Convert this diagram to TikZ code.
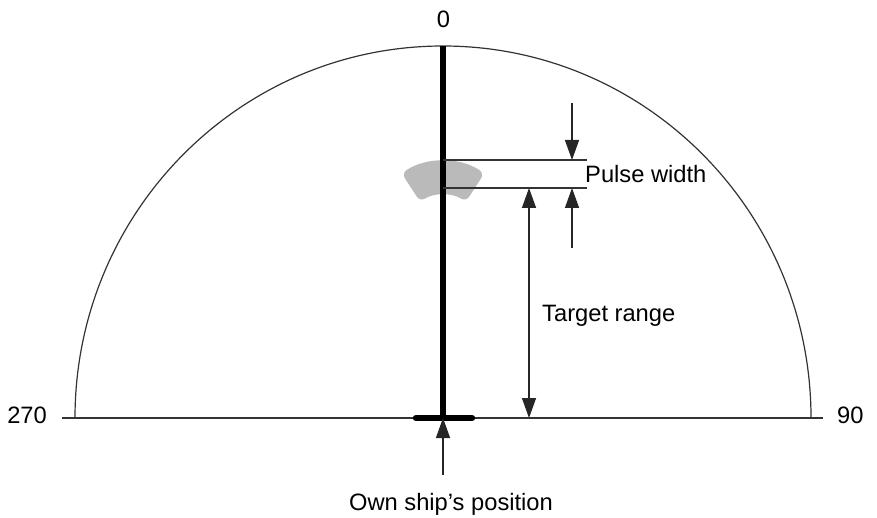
\documentclass[tikz,border=0pt]{standalone}
\usepackage{fontspec}
\setmainfont{Liberation Sans}
\usetikzlibrary{arrows.meta,calc}
\begin{document}
\begin{tikzpicture}[x=1pt,y=1pt,
  thinline/.style={draw=black!80,line width=1.4pt},
  tip/.tip={Triangle[length=20pt,width=14pt]},
  arr/.style={draw=black!85,line width=1.4pt,-tip},
  lbl/.style={font=\fontsize{23.7}{28}\selectfont,text=black,inner sep=0pt}]
\useasboundingbox (0,0) rectangle (877,517);
% key coordinates (y up: y = 517 - pixel row)
\coordinate (O) at (443,99);
\coordinate (L) at (62,99);
\coordinate (R) at (823,99);
\coordinate (top) at (443,471);
% target blob (annular sector)
\coordinate (bc) at (443,280);
\fill[black!27,rounded corners=6pt]
  ($(bc)+(57:76)$) arc[start angle=57,end angle=123,radius=76]
  -- ($(bc)+(123:42)$) arc[start angle=123,end angle=57,radius=42] -- cycle;
% range ring (semicircle)
\draw[black!80,line width=1.2pt] (75,99) arc[start angle=180,end angle=0,x radius=368,y radius=372];
% baseline
\draw[thinline] (L) -- (R);
% heading line
\draw[black,line width=6pt] (O) -- (top);
% own ship bar
\draw[black,line width=6.5pt,line cap=round] (416,99) -- (472,99);
% pulse lines
\coordinate (p1l) at (443,357);
\coordinate (p1r) at (587,357);
\coordinate (p2l) at (443,329);
\coordinate (p2r) at (587,329);
\draw[thinline] (p1l) -- (p1r);
\draw[thinline] (p2l) -- (p2r);
% pulse width arrows
\coordinate (pa1) at (572,414);
\coordinate (pa1e) at (572,357);
\coordinate (pa2) at (572,269);
\coordinate (pa2e) at (572,329);
\draw[arr] (pa1) -- (pa1e);
\draw[arr] (pa2) -- (pa2e);
% target range arrow
\coordinate (tr1) at (529,329);
\coordinate (tr2) at (529,99);
\draw[draw=black!85,line width=1.4pt,tip-tip] (tr1) -- (tr2);
% own ship arrow
\coordinate (os) at (443,42);
\draw[arr] (os) -- (O);
% labels
\node[lbl,anchor=base] (n0) at (443.5,489) {0};
\node[lbl,anchor=base east] (n270) at (47,94) {270};
\node[lbl,anchor=base west] (n90) at (837,94) {90};
\node[lbl,anchor=base west] (pw) at (585,334) {Pulse width};
\node[lbl,anchor=base west] (tr) at (542,196) {Target range};
\node[lbl,anchor=base] (own) at (451,7) {Own ship’s position};
\end{tikzpicture}
\end{document}
